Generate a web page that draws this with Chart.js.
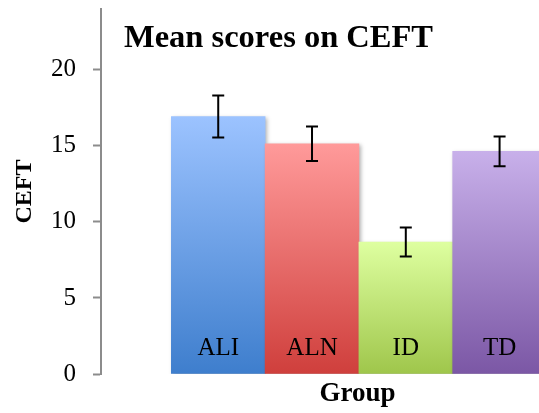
<!DOCTYPE html>
<html>
<head>
<meta charset="utf-8">
<script src="https://cdn.jsdelivr.net/npm/chart.js@4/dist/chart.umd.min.js"></script>
<style>
  html, body { margin: 0; padding: 0; background: #fff; overflow: hidden; }
  #wrap { width: 539px; height: 413px; overflow: hidden; }
</style>
</head>
<body>
<div id="wrap"><canvas id="ceftChart" width="614" height="413"></canvas></div>
<script>
// Group means and error bar half-lengths
const groups = ['ALI', 'ALN', 'ID', 'TD'];
const means = [16.93, 15.14, 8.68, 14.64];
const errors = [1.38, 1.13, 0.95, 0.98];
const yTicks = [0, 5, 10, 15, 20];

// gradient colours for each bar (top, bottom)
const topColors = ['#9cc3ff', '#ff9a9a', '#deffa0', '#c8b0ea'];
const bottomColors = ['#3e7ecd', '#cf3f3c', '#9fc64b', '#7b57a5'];

const serif = '"Liberation Serif", "DejaVu Serif", serif';
const axisGray = '#8c8c8c';

// soft shadow behind the bars
const barShadow = {
    id: 'barShadow',
    beforeDatasetsDraw(chart) {
        const ctx = chart.ctx;
        ctx.save();
        ctx.shadowColor = 'rgba(0, 0, 0, 0.3)';
        ctx.shadowBlur = 4;
        ctx.shadowOffsetX = 2;
        ctx.shadowOffsetY = 2;
    },
    afterDatasetsDraw(chart) {
        chart.ctx.restore();
    }
};

// error bars, group names inside bars, and the title
const extras = {
    id: 'extras',
    afterDatasetsDraw(chart) {
        const ctx = chart.ctx;
        const yScale = chart.scales.y;
        const bars = chart.getDatasetMeta(0).data;

        ctx.save();
        ctx.strokeStyle = '#000';
        ctx.lineWidth = 2;
        bars.forEach(function(bar, i) {
            const yTop = yScale.getPixelForValue(means[i] + errors[i]);
            const yBot = yScale.getPixelForValue(means[i] - errors[i]);
            ctx.beginPath();
            ctx.moveTo(bar.x, yTop);
            ctx.lineTo(bar.x, yBot);
            ctx.moveTo(bar.x - 6, yTop);
            ctx.lineTo(bar.x + 6, yTop);
            ctx.moveTo(bar.x - 6, yBot);
            ctx.lineTo(bar.x + 6, yBot);
            ctx.stroke();
        });

        ctx.fillStyle = '#000';
        ctx.font = '25px ' + serif;
        ctx.textAlign = 'center';
        ctx.textBaseline = 'middle';
        bars.forEach(function(bar, i) {
            ctx.fillText(groups[i], bar.x, yScale.getPixelForValue(0) - 26);
        });

        ctx.font = 'bold 32.5px ' + serif;
        ctx.textAlign = 'left';
        ctx.textBaseline = 'alphabetic';
        ctx.fillText('Mean scores on CEFT', chart.chartArea.left + 23, 47);
        ctx.restore();
    }
};

function barGradient(context) {
    const chart = context.chart;
    const i = context.dataIndex;
    if (!chart.chartArea) return topColors[i];
    const yScale = chart.scales.y;
    const g = chart.ctx.createLinearGradient(0, yScale.getPixelForValue(means[i]), 0, yScale.getPixelForValue(0));
    g.addColorStop(0, topColors[i]);
    g.addColorStop(1, bottomColors[i]);
    return g;
}

const ceftCtx = document.getElementById('ceftChart');
new Chart(ceftCtx, {
    type: 'bar',
    data: {
        datasets: [{
            data: groups.map(function(g, i) { return { x: i, y: means[i] }; }),
            backgroundColor: barGradient,
            borderWidth: 0,
            barPercentage: 1,
            categoryPercentage: 1
        }]
    },
    options: {
        responsive: false,
        animation: false,
        layout: { padding: { top: 9, left: 0, right: 0, bottom: 0 } },
        plugins: {
            legend: { display: false },
            tooltip: { enabled: false }
        },
        scales: {
            x: {
                type: 'linear',
                offset: false,
                min: -1.25,
                max: 4.22,
                grid: { display: false, offset: false },
                border: { display: false },
                ticks: { display: false, stepSize: 1, includeBounds: false },
                title: {
                    display: true,
                    text: 'Group',
                    color: '#000',
                    font: { family: serif, size: 27, weight: 'bold' },
                    padding: { top: 0, bottom: 3 }
                },
                afterFit: function(scale) {
                    scale.height = 39;
                    scale.paddingLeft = 0;
                    scale.paddingRight = 0;
                }
            },
            y: {
                min: 0,
                max: 24,
                afterBuildTicks: function(scale) {
                    scale.ticks = yTicks.map(function(v) { return { value: v }; });
                },
                grid: {
                    drawOnChartArea: false,
                    drawTicks: true,
                    tickLength: 8,
                    tickWidth: 2,
                    color: axisGray
                },
                border: { color: axisGray, width: 2 },
                ticks: {
                    color: '#000',
                    padding: 17,
                    font: { family: serif, size: 25 }
                },
                title: {
                    display: true,
                    text: 'CEFT',
                    color: '#000',
                    font: { family: serif, size: 24, weight: 'bold' },
                    padding: { top: 10, bottom: 0 }
                },
                afterFit: function(scale) {
                    scale.width = 101;
                    scale.paddingTop = 0;
                    scale.paddingBottom = 0;
                }
            }
        }
    },
    plugins: [barShadow, extras]
});
</script>
</body>
</html>
